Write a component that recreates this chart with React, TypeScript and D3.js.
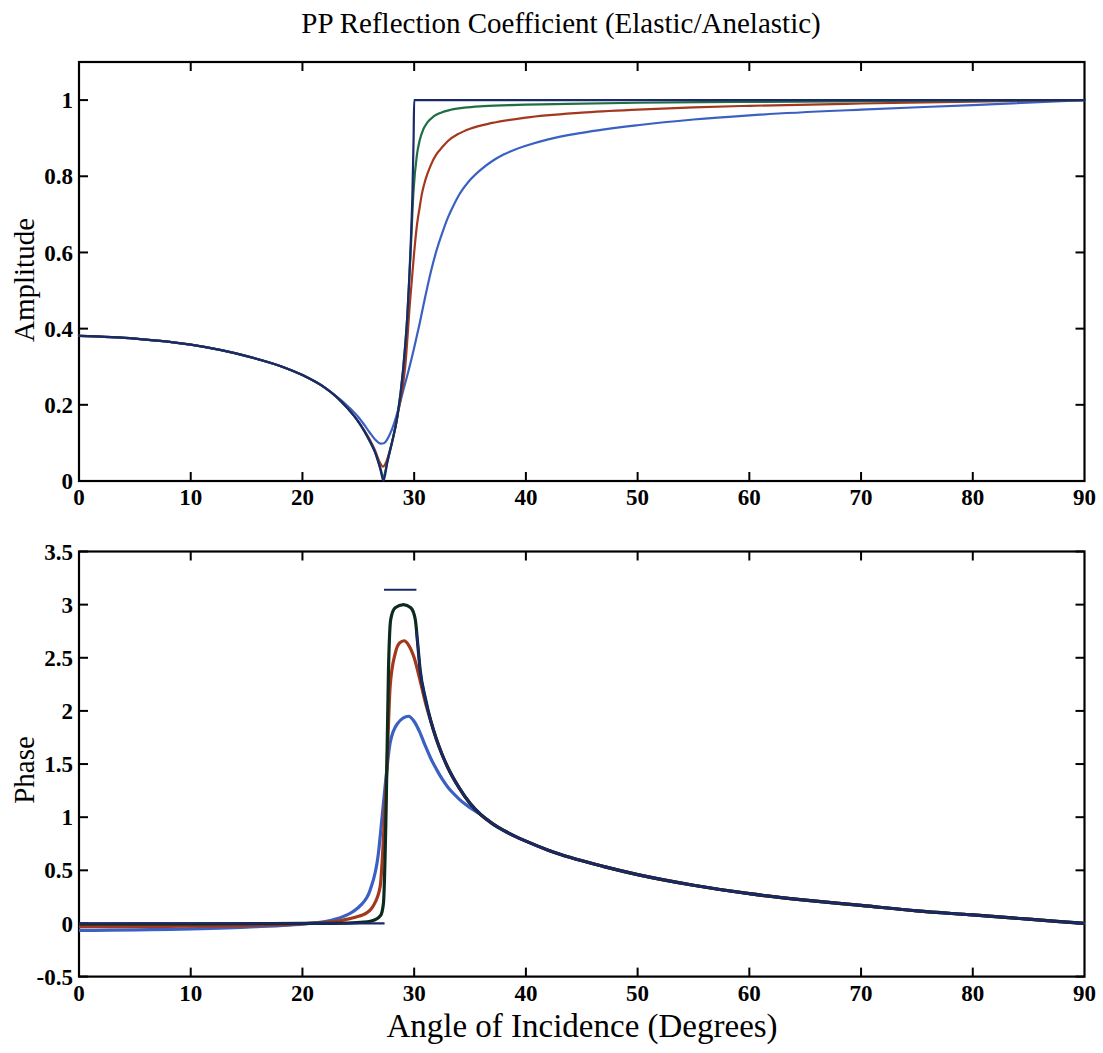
import React from 'react';
import * as d3 from 'd3';

// ---------- Amplitude (top panel) ----------
const ampElasticA = [0, 5, 10, 15, 18, 20, 22, 23, 24, 25, 25.5, 26, 26.5, 27, 27.25, 27.6, 28, 28.5, 29, 29.4, 29.7, 29.85, 29.95, 30, 40, 60, 90];
const ampElasticV = [0.381, 0.374, 0.358, 0.328, 0.302, 0.278, 0.245, 0.222, 0.192, 0.156, 0.133, 0.106, 0.075, 0.028, 0, 0.05, 0.1, 0.17, 0.29, 0.44, 0.63, 0.76, 0.9, 1.0, 1, 1, 1];

const ampGreenA = [0, 5, 10, 15, 18, 20, 22, 23, 24, 25, 25.5, 26, 26.5, 27, 27.22, 27.6, 28, 28.5, 29, 29.4, 29.7, 29.94, 30.24, 30.5, 30.83, 31.2, 31.73, 32.4, 33.2, 34.5, 36.2, 40, 43.7, 50, 58.6, 75, 90];
const ampGreenV = [0.381, 0.374, 0.358, 0.328, 0.302, 0.278, 0.245, 0.222, 0.192, 0.156, 0.133, 0.106, 0.076, 0.032, 0.01, 0.05, 0.1, 0.17, 0.29, 0.44, 0.61, 0.76, 0.855, 0.895, 0.924, 0.942, 0.957, 0.967, 0.974, 0.98, 0.984, 0.988, 0.99, 0.993, 0.995, 0.998, 1.0];

const ampRedA = [0, 5, 10, 15, 18, 20, 22, 23, 24, 25, 25.5, 26, 26.5, 26.9, 27.2, 27.5, 27.8, 28.1, 28.5, 29.2, 29.64, 30, 30.24, 30.5, 30.7, 31, 31.5, 32, 32.5, 33, 34, 35, 37, 40, 45, 50, 55, 60, 70, 80, 90];
const ampRedV = [0.381, 0.374, 0.358, 0.328, 0.302, 0.278, 0.245, 0.222, 0.192, 0.156, 0.134, 0.11, 0.08, 0.05, 0.038, 0.05, 0.078, 0.11, 0.17, 0.3, 0.475, 0.6, 0.67, 0.72, 0.755, 0.79, 0.83, 0.858, 0.876, 0.892, 0.912, 0.925, 0.94, 0.954, 0.967, 0.975, 0.981, 0.985, 0.991, 0.996, 1.0];

const ampBlueA = [0, 5, 10, 15, 18, 20, 22, 23, 23.5, 24, 24.5, 25, 25.5, 26, 26.5, 27, 27.3, 27.6, 28, 28.5, 29, 29.5, 30, 30.5, 31, 31.5, 32, 32.5, 33, 33.5, 34, 35, 36, 37, 38, 40, 42, 45, 50, 55, 60, 70, 80, 90];
const ampBlueV = [0.381, 0.374, 0.358, 0.328, 0.302, 0.278, 0.245, 0.223, 0.211, 0.198, 0.184, 0.168, 0.149, 0.128, 0.109, 0.098, 0.099, 0.11, 0.135, 0.18, 0.235, 0.29, 0.35, 0.415, 0.485, 0.55, 0.605, 0.65, 0.69, 0.722, 0.75, 0.79, 0.818, 0.84, 0.857, 0.88, 0.897, 0.914, 0.934, 0.949, 0.96, 0.975, 0.987, 1.0];

// ---------- Phase (bottom panel) ----------
const phaseElasticLowA = [0, 27.35];
const phaseElasticLowV = [0, 0];
const phaseElasticPiA = [27.3, 30.2];
const phaseElasticPiV = [3.14, 3.14];

// shared decay beyond the critical angle
const phaseTailA = [36, 37, 38, 39, 40, 42, 44, 47, 50, 55, 60, 65, 70, 75, 80, 85, 90];
const phaseTailV = [1.02, 0.94, 0.875, 0.822, 0.775, 0.69, 0.62, 0.535, 0.46, 0.36, 0.28, 0.22, 0.17, 0.118, 0.08, 0.04, 0];

const phaseDecayA = [31.5, 32, 32.5, 33, 34, 35];
const phaseDecayV = [1.9, 1.73, 1.59, 1.47, 1.28, 1.13];

const phaseElasticHighA = [30.2, 30.3, 30.54, 31.0];
const phaseElasticHighV = [2.75, 2.65, 2.38, 2.12];

const phaseGreenHeadA = [0, 10, 20, 24, 25.5, 26.5, 27.0, 27.25, 27.5, 27.7, 27.9, 28.3, 29.04, 29.7, 30.1, 30.3, 30.54, 31.0];
const phaseGreenHeadV = [-0.005, -0.004, 0, 0.004, 0.012, 0.035, 0.075, 0.19, 1.13, 2.38, 2.86, 2.97, 3.0, 2.97, 2.86, 2.65, 2.38, 2.12];

const phaseRedHeadA = [0, 8, 15, 20.6, 23.3, 25.1, 25.5, 26.36, 26.96, 27.26, 27.55, 27.85, 28.3, 28.7, 29.1, 29.5, 30.0, 30.5, 31.0];
const phaseRedHeadV = [-0.03, -0.027, -0.02, 0, 0.025, 0.07, 0.085, 0.17, 0.35, 0.82, 1.44, 2.23, 2.54, 2.64, 2.66, 2.62, 2.5, 2.3, 2.08];

const phaseBlueHeadA = [0, 9, 15, 20.6, 22.7, 24.5, 25.2, 26.06, 26.8, 27.1, 27.4, 27.85, 28.5, 29.5, 30.0, 30.5, 31.0, 31.5, 32.0, 32.5, 33.0, 33.5, 34.0, 34.5, 35.0];
const phaseBlueHeadV = [-0.065, -0.053, -0.034, 0, 0.033, 0.11, 0.17, 0.315, 0.66, 0.97, 1.29, 1.7, 1.88, 1.95, 1.9, 1.8, 1.67, 1.55, 1.45, 1.36, 1.285, 1.225, 1.173, 1.128, 1.09];

// ---------- Axes ----------
const xTicks = [0, 10, 20, 30, 40, 50, 60, 70, 80, 90];
const ampTicks = [0, 0.2, 0.4, 0.6, 0.8, 1];
const ampTickLabels = ['0', '0.2', '0.4', '0.6', '0.8', '1'];
const phaseTicks = [-0.5, 0, 0.5, 1, 1.5, 2, 2.5, 3, 3.5];
const phaseTickLabels = ['-0.5', '0', '0.5', '1', '1.5', '2', '2.5', '3', '3.5'];

const TITLE = 'PP Reflection Coefficient (Elastic/Anelastic)';
const XLABEL = 'Angle of Incidence (Degrees)';

const C_NAVY = '#19296a';
const C_GREEN = '#216e45';
const C_RED = '#a4381f';
const C_BLUE = '#3a60c2';
const C_DARKGREEN = '#0d2b1d';

const zip = (a: number[], v: number[]) => a.map((x, i) => [x, v[i]] as [number, number]);

const W = 1103;
const H = 1053;
const X0 = 79;
const X1 = 1084.5;
const FONT = '"Liberation Serif", "Times New Roman", serif';

export default function App() {
  const x = d3.scaleLinear().domain([0, 90]).range([X0, X1]);
  const yA = d3.scaleLinear().domain([0, 1.1]).range([481, 62]);
  const yP = d3.scaleLinear().domain([-0.5, 3.5]).range([976.6, 551.5]);

  const lineA = d3.line<[number, number]>().x(d => x(d[0])).y(d => yA(d[1])).curve(d3.curveMonotoneX);
  const lineP = d3.line<[number, number]>().x(d => x(d[0])).y(d => yP(d[1])).curve(d3.curveMonotoneX);

  const decay = zip(phaseDecayA, phaseDecayV);
  const tail = zip(phaseTailA, phaseTailV);

  const tickLen = 9;

  const panel = (
    y: d3.ScaleLinear<number, number>,
    yt: number[],
    ytl: string[],
    key: string
  ) => {
    const [yb, ytop] = y.range();
    return (
      <g key={key}>
        <rect x={X0} y={ytop} width={X1 - X0} height={yb - ytop} fill="none" stroke="#000" strokeWidth={2.2} />
        {xTicks.slice(1, -1).map(t => (
          <g key={'xt' + t}>
            <line x1={x(t)} x2={x(t)} y1={yb} y2={yb - tickLen} stroke="#000" strokeWidth={2} />
            <line x1={x(t)} x2={x(t)} y1={ytop} y2={ytop + tickLen} stroke="#000" strokeWidth={2} />
          </g>
        ))}
        {yt.map(t => (
          <g key={'yt' + t}>
            <line x1={X0} x2={X0 + tickLen} y1={y(t)} y2={y(t)} stroke="#000" strokeWidth={2} />
            <line x1={X1} x2={X1 - tickLen} y1={y(t)} y2={y(t)} stroke="#000" strokeWidth={2} />
          </g>
        ))}
        {yt.map((t, i) => (
          <text key={'yl' + t} x={73} y={y(t)} dy="0.35em" textAnchor="end" fontFamily={FONT} fontWeight="bold" fontSize={23}>
            {ytl[i]}
          </text>
        ))}
        {xTicks.map(t => (
          <text key={'xl' + t} x={x(t)} y={yb + 24} textAnchor="middle" fontFamily={FONT} fontWeight="bold" fontSize={23}>
            {t}
          </text>
        ))}
      </g>
    );
  };

  return (
    <svg width={W} height={H} style={{ position: 'absolute', left: 0, top: 0, background: '#fff' }}>
      <rect x={0} y={0} width={W} height={H} fill="#fff" />
      <text x={561} y={33} textAnchor="middle" fontFamily={FONT} fontSize={29}>{TITLE}</text>

      {panel(yA, ampTicks, ampTickLabels, 'top')}
      <g fill="none" strokeLinejoin="round" strokeLinecap="round">
        <path d={lineA(zip(ampBlueA, ampBlueV)) || ''} stroke={C_BLUE} strokeWidth={2.2} />
        <path d={lineA(zip(ampRedA, ampRedV)) || ''} stroke={C_RED} strokeWidth={2.2} />
        <path d={lineA(zip(ampGreenA, ampGreenV)) || ''} stroke={C_GREEN} strokeWidth={2.2} />
        <path d={lineA(zip(ampElasticA, ampElasticV)) || ''} stroke={C_NAVY} strokeWidth={2.2} />
      </g>
      <text transform={`translate(34,280) rotate(-90)`} textAnchor="middle" fontFamily={FONT} fontSize={29}>Amplitude</text>

      {panel(yP, phaseTicks, phaseTickLabels, 'bottom')}
      <g fill="none" strokeLinejoin="round" strokeLinecap="butt">
        <path d={lineP(zip(phaseBlueHeadA, phaseBlueHeadV).concat(tail)) || ''} stroke={C_BLUE} strokeWidth={3.2} />
        <path d={lineP(zip(phaseRedHeadA, phaseRedHeadV).concat(decay, tail)) || ''} stroke={C_RED} strokeWidth={3.2} />
        <path d={lineP(zip(phaseGreenHeadA, phaseGreenHeadV).concat(decay, tail)) || ''} stroke={C_DARKGREEN} strokeWidth={3.2} />
        <path d={lineP(zip(phaseElasticLowA, phaseElasticLowV)) || ''} stroke={C_NAVY} strokeWidth={2.2} />
        <path d={lineP(zip(phaseElasticPiA, phaseElasticPiV)) || ''} stroke={C_NAVY} strokeWidth={2.2} />
        <path d={lineP(zip(phaseElasticHighA, phaseElasticHighV).concat(decay, tail)) || ''} stroke={C_NAVY} strokeWidth={2.4} />
      </g>
      <text transform={`translate(34,770) rotate(-90)`} textAnchor="middle" fontFamily={FONT} fontSize={29}>Phase</text>

      <text x={582} y={1037} textAnchor="middle" fontFamily={FONT} fontSize={33}>{XLABEL}</text>
    </svg>
  );
}
